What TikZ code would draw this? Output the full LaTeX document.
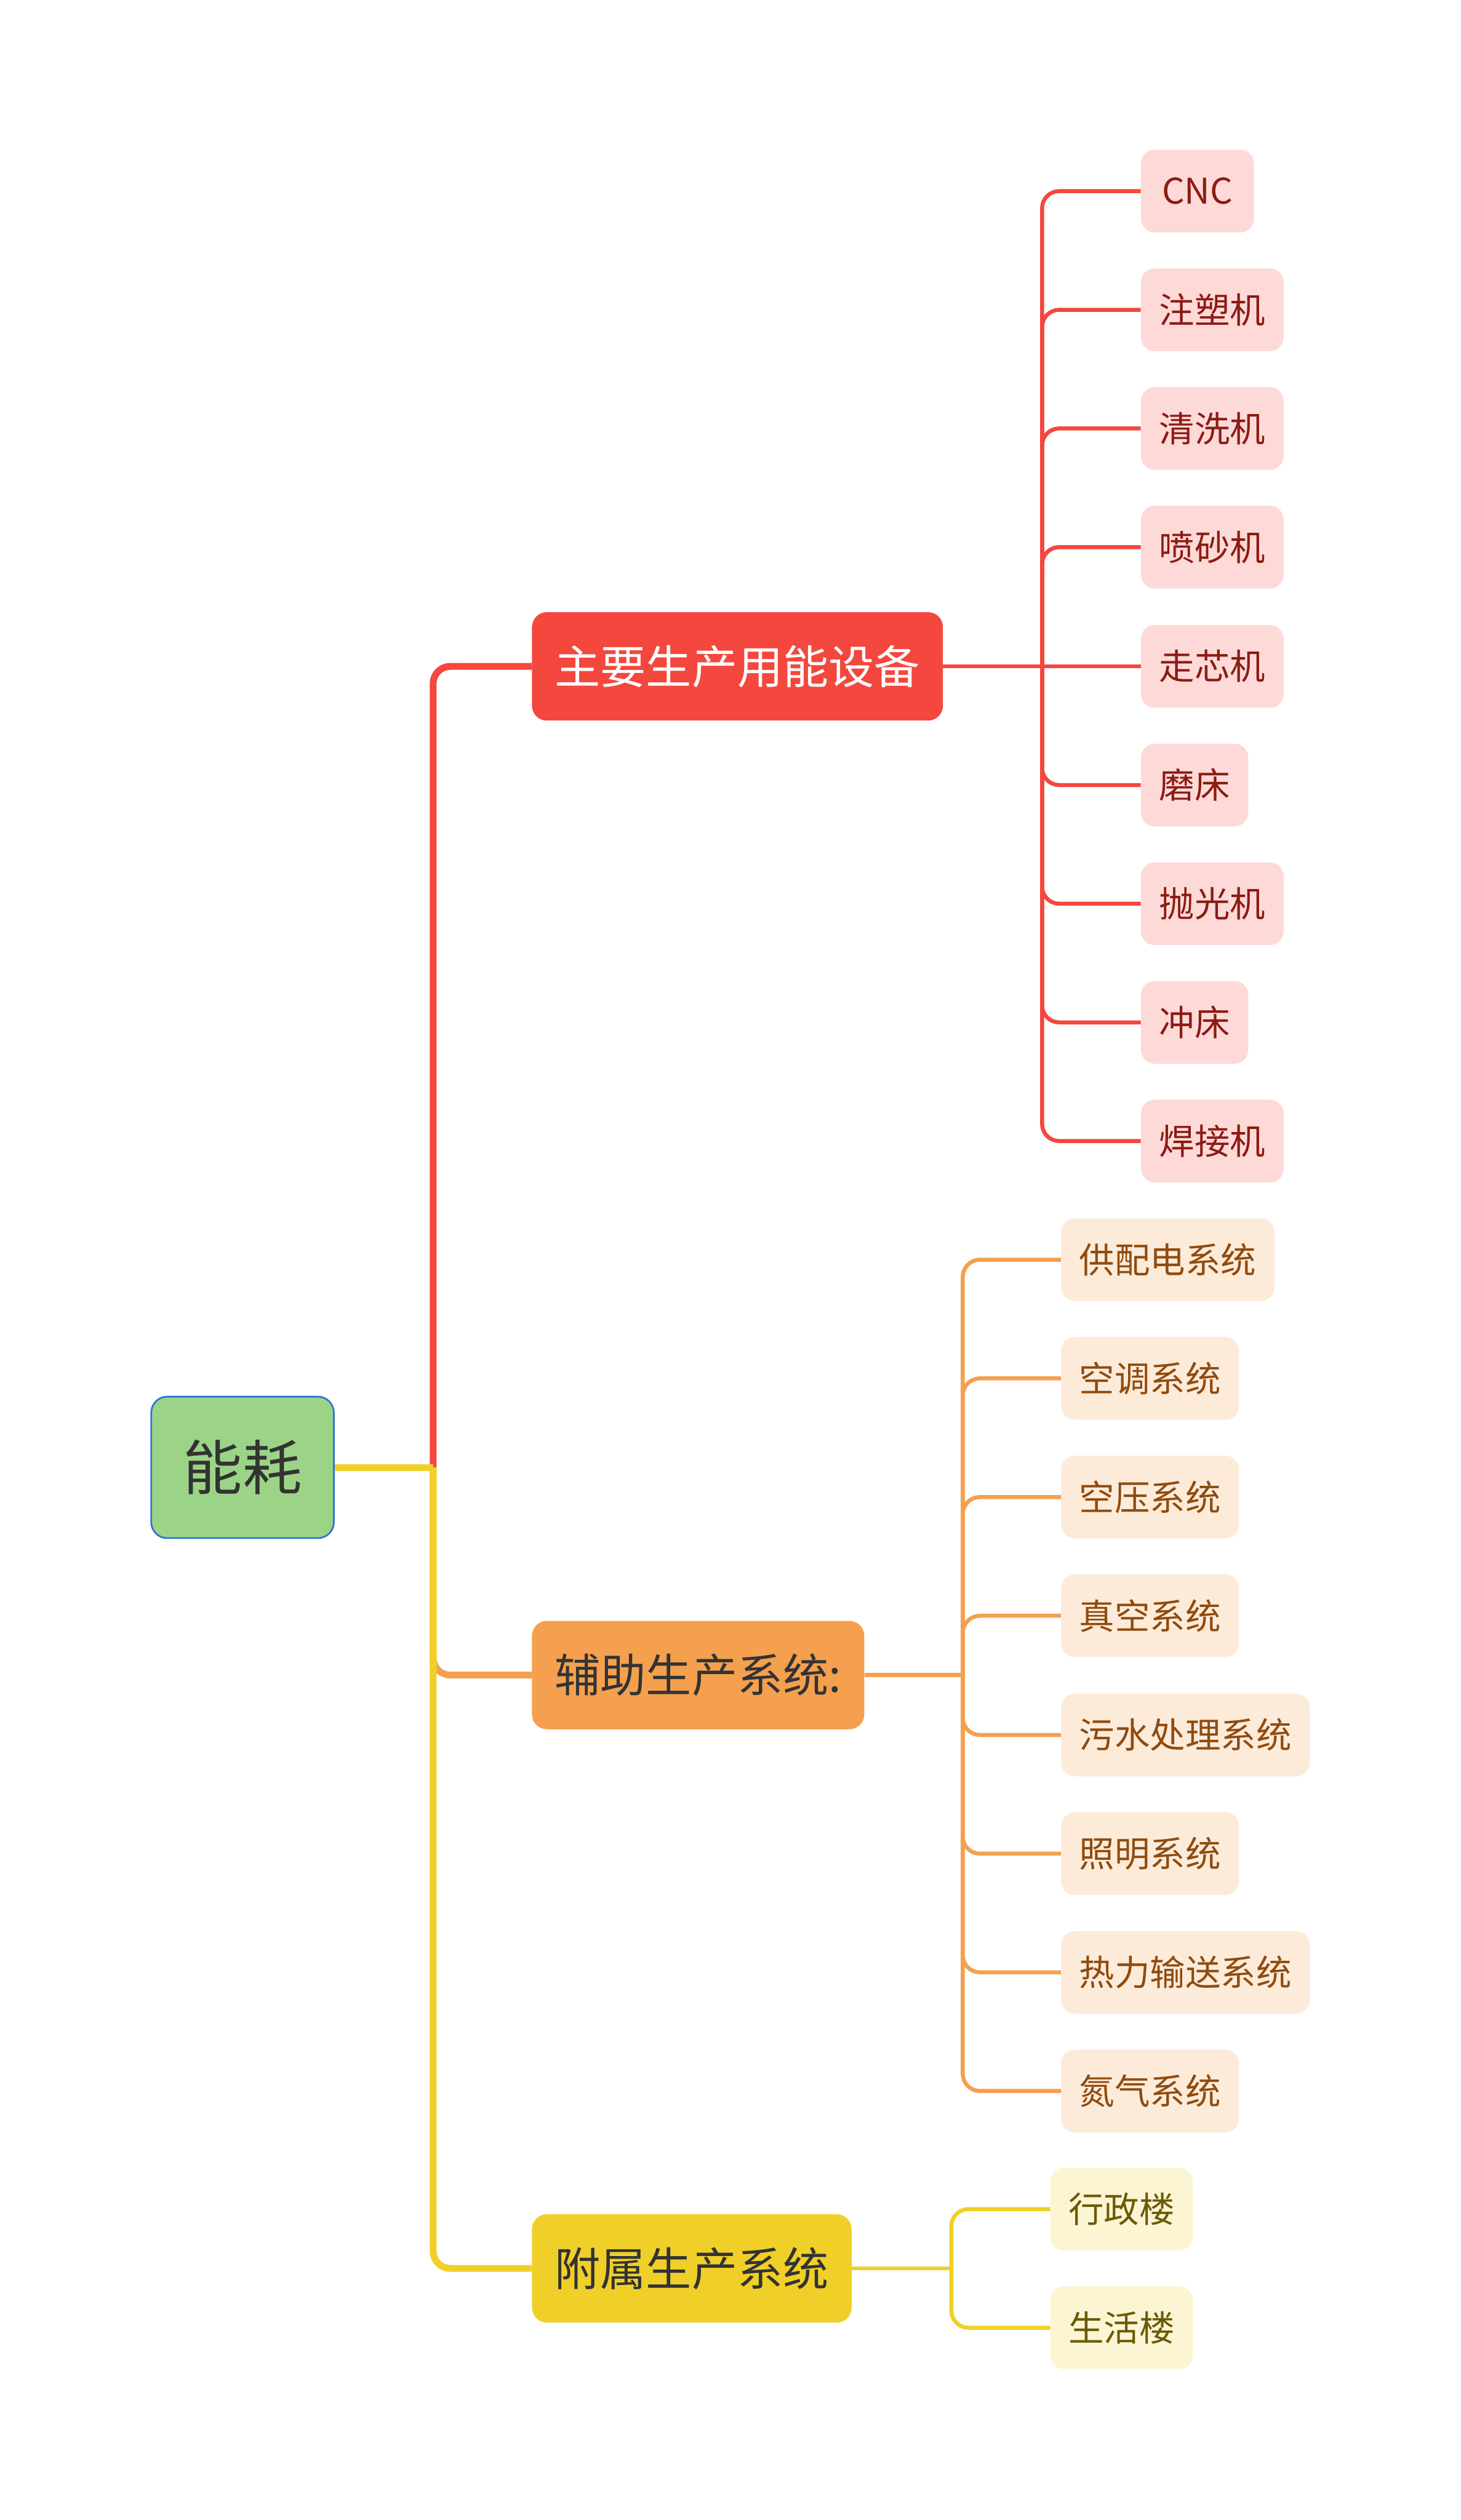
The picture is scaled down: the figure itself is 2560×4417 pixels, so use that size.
\documentclass[tikz,border=0pt]{standalone}
\usepackage{fontspec}
\newfontfamily\cjk{Noto Sans CJK SC}
\definecolor{redc}{HTML}{F4473D}
\definecolor{redleaf}{HTML}{FDDAD8}
\definecolor{redtxt}{HTML}{8C1B13}
\definecolor{orgc}{HTML}{F5A04E}
\definecolor{orgleaf}{HTML}{FDEBDA}
\definecolor{orgtxt}{HTML}{8F4B0E}
\definecolor{ylwc}{HTML}{F0D028}
\definecolor{ylwleaf}{HTML}{FCF5D3}
\definecolor{ylwtxt}{HTML}{6B5A06}
\definecolor{rootfill}{HTML}{9CD487}
\definecolor{rootline}{HTML}{2F74D8}
\definecolor{darktxt}{HTML}{333333}
\begin{document}
\begin{tikzpicture}[x=1pt,y=-1pt,
  rootbox/.style={draw=rootline, line width=3pt, fill=rootfill, rounded corners=28pt,
    minimum width=320pt, minimum height=248pt, inner sep=0pt,
    font=\cjk\fontsize{104}{104}\selectfont, text=darktxt},
  mainbox/.style={rounded corners=26pt, minimum height=190pt, inner xsep=40pt, inner ysep=0pt,
    anchor=west, font=\cjk\fontsize{80}{80}\selectfont},
  leafbox/.style={rounded corners=24pt, minimum height=145pt, inner xsep=32pt, inner ysep=0pt,
    anchor=west, font=\cjk\fontsize{62}{62}\selectfont},
  redleafbox/.style={leafbox, fill=redleaf, text=redtxt},
  orgleafbox/.style={leafbox, fill=orgleaf, text=orgtxt},
  ylwleafbox/.style={leafbox, fill=ylwleaf, text=ylwtxt},
  mline/.style={line width=12pt, rounded corners=30pt},
  sline/.style={line width=7pt, rounded corners=30pt}
]
\useasboundingbox (0,0) rectangle (2560,4417);

% root and main branches
\node[rootbox] (root) at (425,2572) {能耗};
\node[mainbox, fill=redc, text=white] (m1) at (932,1168) {主要生产用能设备};
\node[mainbox, fill=orgc, text=darktxt] (m2) at (932,2936) {辅助生产系统:};
\node[mainbox, fill=ylwc, text=darktxt] (m3) at (932,3976) {附属生产系统};

% junction points
\coordinate (J0) at (759,2572);
\coordinate (J1) at (1826,1168);
\coordinate (J2) at (1687,2936);
\coordinate (J3) at (1667,3976);

% red leaves
\node[redleafbox, minimum width=198pt] (r1) at (1999,335) {CNC};
\node[redleafbox] (r2) at (1999,543) {注塑机};
\node[redleafbox] (r3) at (1999,751) {清洗机};
\node[redleafbox] (r4) at (1999,959) {喷砂机};
\node[redleafbox] (r5) at (1999,1168) {走芯机};
\node[redleafbox] (r6) at (1999,1376) {磨床};
\node[redleafbox] (r7) at (1999,1584) {抛光机};
\node[redleafbox] (r8) at (1999,1792) {冲床};
\node[redleafbox] (r9) at (1999,2000) {焊接机};

% orange leaves
\node[orgleafbox] (o1) at (1859,2208) {供配电系统};
\node[orgleafbox] (o2) at (1859,2416) {空调系统};
\node[orgleafbox] (o3) at (1859,2624) {空压系统};
\node[orgleafbox] (o4) at (1859,2832) {真空系统};
\node[orgleafbox] (o5) at (1859,3041) {污水处理系统};
\node[orgleafbox] (o6) at (1859,3249) {照明系统};
\node[orgleafbox] (o7) at (1859,3457) {热力输送系统};
\node[orgleafbox] (o8) at (1859,3665) {氮气系统};

% yellow leaves
\node[ylwleafbox] (y1) at (1840,3872) {行政楼};
\node[ylwleafbox] (y2) at (1840,4080) {生活楼};

% main connectors
\draw[mline, redc] (J0) |- (m1.west);
\draw[mline, orgc] (J0) |- (m2.west);
\draw[mline, ylwc] (J0) |- (m3.west);
\draw[mline, ylwc] (root.east) -- (J0);

% red sub connectors
\draw[sline, redc] (m1.east) -- (J1);
\foreach \n in {r1,r2,r3,r4,r6,r7,r8,r9}{
  \draw[sline, redc] (J1) |- (\n.west);
}
\draw[sline, redc] (J1) -- (r5.west);

% orange sub connectors
\draw[sline, orgc] (m2.east) -- (J2);
\foreach \n in {o1,o2,o3,o4,o5,o6,o7,o8}{
  \draw[sline, orgc] (J2) |- (\n.west);
}

% yellow sub connectors
\draw[sline, ylwc] (m3.east) -- (J3);
\foreach \n in {y1,y2}{
  \draw[sline, ylwc] (J3) |- (\n.west);
}
\end{tikzpicture}
\end{document}
